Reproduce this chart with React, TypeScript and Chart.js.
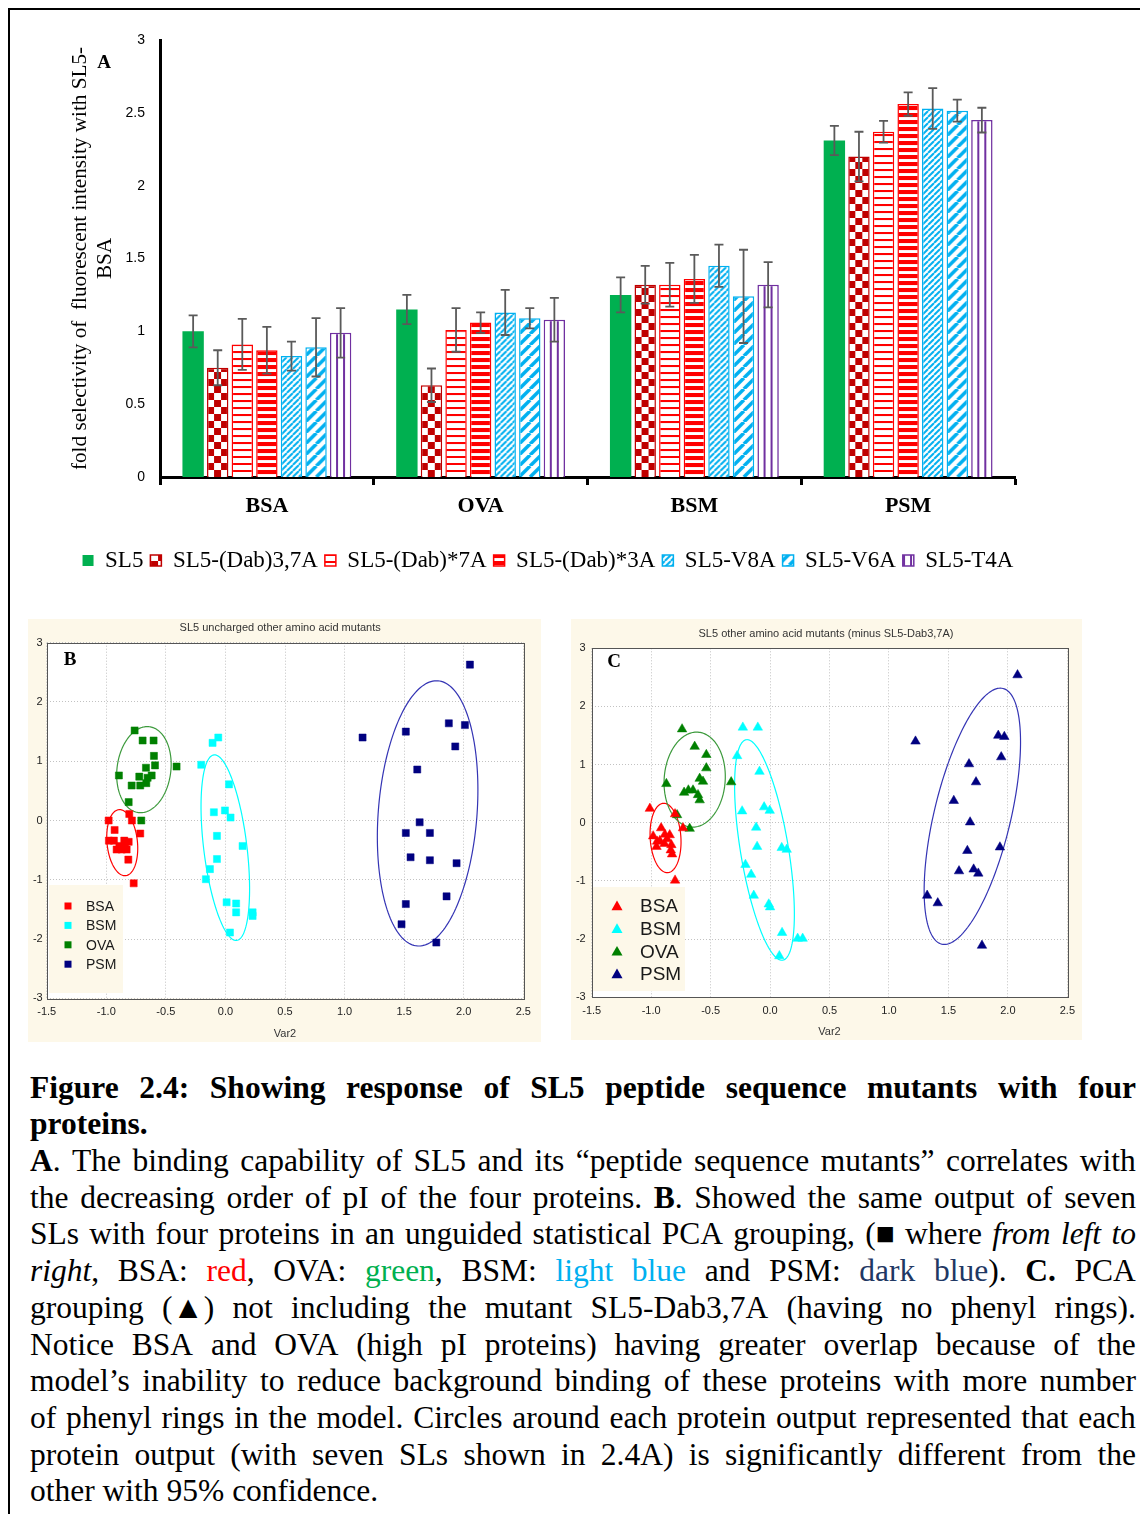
import React, { useEffect, useRef } from 'react';
import { Chart, registerables } from 'chart.js';

Chart.register(...registerables);
Chart.defaults.font.family = '"Liberation Sans", Arial, sans-serif';

// ---------------- Panel A data ----------------
const proteins = ['BSA', 'OVA', 'BSM', 'PSM'];
const seriesLabels = ['SL5', 'SL5-(Dab)3,7A', 'SL5-(Dab)*7A', 'SL5-(Dab)*3A', 'SL5-V8A', 'SL5-V6A', 'SL5-T4A'];
const valSL5 = [1.0, 1.15, 1.25, 2.31];
const errSL5 = [0.11, 0.1, 0.12, 0.1];
const valDab37 = [0.75, 0.63, 1.32, 2.2];
const errDab37 = [0.12, 0.115, 0.13, 0.17];
const valDab7 = [0.91, 1.01, 1.32, 2.37];
const errDab7 = [0.175, 0.15, 0.15, 0.075];
const valDab3 = [0.87, 1.06, 1.36, 2.56];
const errDab3 = [0.16, 0.07, 0.165, 0.08];
const valV8 = [0.83, 1.13, 1.45, 2.53];
const errV8 = [0.1, 0.155, 0.145, 0.14];
const valV6 = [0.89, 1.09, 1.24, 2.515];
const errV6 = [0.2, 0.07, 0.32, 0.075];
const valT4 = [0.99, 1.08, 1.32, 2.45];
const errT4 = [0.17, 0.15, 0.155, 0.085];
const yTicksA = [0, 0.5, 1, 1.5, 2, 2.5, 3];
const yTickLabelsA = ['0', '0.5', '1', '1.5', '2', '2.5', '3'];
const yTitleA = ['fold selectivity of  fluorescent intensity with SL5-', 'BSA'];

const seriesValues = [valSL5, valDab37, valDab7, valDab3, valV8, valV6, valT4];
const seriesErrors = [errSL5, errDab37, errDab7, errDab3, errV8, errV6, errT4];

// ---------------- Panel B data (squares) ----------------
const bBSA = [[-0.98, 0.0], [-0.807, 0.11], [-0.785, 0.0], [-0.93, -0.16], [-0.715, -0.22], [-0.978, -0.34], [-0.936, -0.34], [-0.913, -0.49], [-0.871, -0.49], [-0.849, -0.34], [-0.829, -0.49], [-0.812, -0.36], [-0.89, -0.43], [-0.843, -0.41], [-0.815, -0.66], [-0.77, -1.06]];
const bBSM = [[-0.06, 1.4], [-0.108, 1.31], [-0.203, 0.94], [0.03, 0.61], [-0.097, 0.14], [-0.004, 0.17], [0.043, 0.05], [-0.071, -0.26], [0.144, -0.43], [-0.071, -0.65], [-0.13, -0.82], [-0.164, -0.99], [0.01, -1.38], [0.09, -1.4], [0.09, -1.55], [0.228, -1.55], [0.228, -1.61], [0.038, -1.89]];
const bOVA = [[-0.762, 1.52], [-0.695, 1.35], [-0.603, 1.35], [-0.6, 1.09], [-0.591, 0.93], [-0.667, 0.89], [-0.894, 0.76], [-0.723, 0.74], [-0.619, 0.76], [-0.653, 0.72], [-0.664, 0.63], [-0.787, 0.59], [-0.715, 0.59], [-0.812, 0.31], [-0.41, 0.91], [-0.706, 0.0]];
const bPSM = [[2.052, 2.63], [1.151, 1.4], [1.514, 1.5], [1.875, 1.64], [2.01, 1.61], [1.929, 1.25], [1.61, 0.86], [1.63, -0.03], [1.514, -0.21], [1.716, -0.21], [1.554, -0.62], [1.716, -0.67], [1.94, -0.72], [1.856, -1.28], [1.514, -1.41], [1.478, -1.75], [1.77, -2.06]];
// ellipses: [cx, cy, major-dx, major-dy, minor-dx, minor-dy]
const bEllBSA = [-0.866, -0.374, -0.028, 0.557, 0.127, 0.025];
const bEllBSM = [-0.001, -0.458, -0.0955, 1.565, 0.18, 0.044];
const bEllOVA = [-0.684, 0.858, 0.046, 0.724, 0.224, -0.057];
const bEllPSM = [1.697, 0.12, 0.0865, 2.237, 0.413, -0.064];

// ---------------- Panel C data (triangles) ----------------
const cBSA = [[-1.011, 0.244], [-0.799, 0.15], [-0.732, -0.09], [-0.916, -0.09], [-0.983, -0.23], [-0.95, -0.32], [-0.885, -0.2], [-0.844, -0.21], [-0.927, -0.31], [-0.888, -0.36], [-0.955, -0.41], [-0.866, -0.28], [-0.83, -0.38], [-0.835, -0.47], [-0.824, -0.54], [-0.799, -0.99]];
const cBSM = [[-0.229, 1.64], [-0.103, 1.64], [-0.277, 1.15], [-0.089, 0.88], [-0.235, 0.2], [-0.05, 0.27], [-0.003, 0.21], [-0.117, -0.08], [-0.109, -0.41], [0.098, -0.43], [0.14, -0.46], [-0.207, -0.72], [-0.159, -0.89], [-0.137, -1.25], [-0.011, -1.4], [0.0, -1.45], [0.101, -1.89], [0.232, -1.99], [0.274, -1.99], [0.078, -2.29]];
const cOVA = [[-0.74, 1.61], [-0.634, 1.31], [-0.536, 1.17], [-0.536, 0.94], [-0.872, 0.67], [-0.592, 0.76], [-0.564, 0.71], [-0.327, 0.7], [-0.723, 0.52], [-0.687, 0.56], [-0.648, 0.56], [-0.606, 0.48], [-0.592, 0.39], [-0.782, 0.135], [-0.676, -0.1]];
const cPSM = [[2.081, 2.54], [1.223, 1.4], [1.919, 1.5], [1.97, 1.48], [1.944, 1.13], [1.673, 1.01], [1.732, 0.7], [1.545, 0.38], [1.682, 0.01], [1.933, -0.42], [1.659, -0.48], [1.712, -0.8], [1.751, -0.87], [1.589, -0.83], [1.321, -1.25], [1.41, -1.38], [1.782, -2.11]];
const cEllBSA = [-0.879, -0.261, -0.018, 0.596, 0.129, 0.015];
const cEllBSM = [-0.047, -0.467, -0.1535, 1.895, 0.199, 0.067];
const cEllOVA = [-0.634, 0.742, 0.028, 0.816, 0.256, -0.036];
const cEllPSM = [1.701, 0.112, 0.2575, 2.1975, 0.313, -0.154];

const groupLabels = ['BSA', 'BSM', 'OVA', 'PSM'];
const titleB = 'SL5 uncharged other amino acid mutants';
const titleC = 'SL5 other amino acid mutants (minus SL5-Dab3,7A)';
const xTitleBC = 'Var2';

// ---------------- Caption ----------------
const captionLines = [
  '**Figure 2.4: Showing response of SL5 peptide sequence mutants with four**',
  '**proteins.**',
  '**A**. The binding capability of SL5 and its \u201cpeptide sequence mutants\u201d correlates with',
  'the decreasing order of pI of the four proteins. **B**. Showed the same output of seven',
  'SLs with four proteins in an unguided statistical PCA grouping, (**\u25A0** where __from left to__',
  '__right__, BSA: [#FF0000]red[/], OVA: [#00B050]green[/], BSM: [#00B0F0]light blue[/] and PSM: [#1F3864]dark blue[/]). **C.** PCA',
  'grouping (**\u25B2**) not including the mutant SL5-Dab3,7A (having no phenyl rings).',
  'Notice BSA and OVA (high pI proteins) having greater overlap because of the',
  'model\u2019s inability to reduce background binding of these proteins with more number',
  'of phenyl rings in the model. Circles around each protein output represented that each',
  'protein output (with seven SLs shown in 2.4A) is significantly different from the',
  'other with 95% confidence.',
];
const captionJustify = [true, false, true, true, true, true, true, true, true, true, true, false];

// ---------------- styles ----------------
const CAT_PCT = 0.805;
const BAR_PCT = 0.87;
type PatKind = 'solid' | 'checker' | 'hlines' | 'hbars' | 'diagFine' | 'diagWide' | 'vlines';
const seriesKinds: PatKind[] = ['solid', 'checker', 'hlines', 'hbars', 'diagFine', 'diagWide', 'vlines'];
const seriesColors = ['#00B050', '#C00000', '#FF0000', '#FF0000', '#00B0F0', '#00B0F0', '#7030A0'];
const groupColors = ['#FF0000', '#00FFFF', '#008000', '#000080'];
const ellColors = ['#FF0000', '#00FFFF', '#3C9A3C', '#3434B4'];

function makeTile(kind: PatKind, color: string): HTMLCanvasElement {
  const c = document.createElement('canvas');
  const g = c.getContext('2d')!;
  const set = (w: number, h: number) => {
    c.width = w; c.height = h;
    g.fillStyle = '#ffffff'; g.fillRect(0, 0, w, h);
    g.fillStyle = color; g.strokeStyle = color;
  };
  const diag = (n: number, lw: number) => {
    set(n, n);
    g.lineWidth = lw;
    g.beginPath();
    for (const o of [-n, 0, n]) { g.moveTo(o, n); g.lineTo(o + n, 0); }
    g.stroke();
  };
  switch (kind) {
    case 'checker': set(14, 14); g.fillRect(0, 0, 7, 7); g.fillRect(7, 7, 7, 7); break;
    case 'hlines': set(4, 7); g.fillRect(0, 0, 4, 2); break;
    case 'hbars': set(4, 7); g.fillRect(0, 0, 4, 4); break;
    case 'diagFine': diag(6, 2); break;
    case 'diagWide': diag(11, 3.5); break;
    case 'vlines': set(7, 4); g.fillRect(0, 0, 2, 4); break;
    default: set(4, 4); g.fillRect(0, 0, 4, 4);
  }
  return c;
}

function patternFill(kind: PatKind, color: string, dsIndex: number) {
  const tile = makeTile(kind, color);
  return (ctx: any) => {
    const chart = ctx.chart;
    const pat = chart.ctx.createPattern(tile, 'repeat');
    if (ctx.type !== 'data') return pat;
    const xs = chart.scales.x;
    const ys = chart.scales.y;
    if (!xs || !ys || !xs.width) return pat;
    const catW = xs.width / proteins.length;
    const size = catW * CAT_PCT;
    const slot = size / seriesLabels.length;
    const barW = slot * BAR_PCT;
    const left = xs.getPixelForValue(ctx.dataIndex) - size / 2 + slot * dsIndex + (slot - barW) / 2;
    const tx = kind === 'vlines' ? left + barW / 3 - 1 : left;
    const ty = ys.getPixelForValue(0);
    if (isFinite(tx) && isFinite(ty)) pat.setTransform(new DOMMatrix([1, 0, 0, 1, tx, ty]));
    return pat;
  };
}

const errorBarPlugin = {
  id: 'errorBars',
  afterDatasetsDraw(chart: any) {
    const ctx = chart.ctx;
    const ys = chart.scales.y;
    ctx.save();
    ctx.strokeStyle = '#5A5A5A';
    ctx.lineWidth = 1.8;
    chart.data.datasets.forEach((ds: any, i: number) => {
      const meta = chart.getDatasetMeta(i);
      meta.data.forEach((el: any, j: number) => {
        const v = ds.data[j];
        const e = ds.errors[j];
        const x = el.x;
        const y1 = ys.getPixelForValue(v + e);
        const y2 = ys.getPixelForValue(v - e);
        ctx.beginPath();
        ctx.moveTo(x, y1); ctx.lineTo(x, y2);
        ctx.moveTo(x - 4.5, y1); ctx.lineTo(x + 4.5, y1);
        ctx.moveTo(x - 4.5, y2); ctx.lineTo(x + 4.5, y2);
        ctx.stroke();
      });
    });
    ctx.restore();
  },
};

const letterAPlugin = {
  id: 'letterA',
  afterDraw(chart: any) {
    const ctx = chart.ctx;
    const a = chart.chartArea;
    ctx.save();
    ctx.font = 'bold 19px "Liberation Serif"';
    ctx.fillStyle = '#000';
    ctx.textAlign = 'center';
    ctx.textBaseline = 'middle';
    ctx.fillText('A', a.left - 56, a.top + 23);
    ctx.restore();
  },
};

function buildBarConfig() {
  const datasets = seriesLabels.map((label, i) => ({
    label,
    data: seriesValues[i],
    errors: seriesErrors[i],
    yAxisID: 'y',
    backgroundColor: seriesKinds[i] === 'solid' ? seriesColors[i] : patternFill(seriesKinds[i], seriesColors[i], i),
    borderColor: seriesColors[i],
    borderWidth: seriesKinds[i] === 'solid' ? 0 : 1.5,
    categoryPercentage: CAT_PCT,
    barPercentage: BAR_PCT,
  }));
  return {
    type: 'bar',
    data: { labels: proteins, datasets },
    options: {
      animation: false,
      responsive: false,
      devicePixelRatio: 1,
      events: [],
      layout: { padding: { top: 30, right: 0, bottom: 0, left: 0 } },
      plugins: {
        tooltip: { enabled: false },
        legend: {
          position: 'bottom',
          labels: {
            font: { family: '"Liberation Serif"', size: 23 },
            color: '#000',
            boxWidth: 11,
            boxHeight: 11,
            padding: 7,
          },
        },
      },
      scales: {
        x: {
          grid: { display: true, drawOnChartArea: false, drawTicks: true, tickLength: 8, tickWidth: 3, tickColor: '#000', offset: true },
          border: { display: true, color: '#000', width: 3 },
          ticks: { font: { family: '"Liberation Serif"', size: 22, weight: 'bold' }, color: '#000', padding: 8 },
          afterFit: (s: any) => { s.height = 65; },
        },
        y: {
          min: 0,
          max: 3,
          afterBuildTicks: (s: any) => { s.ticks = yTicksA.map((v) => ({ value: v })); },
          ticks: {
            font: { family: '"Liberation Sans"', size: 14 },
            color: '#000',
            padding: 15,
            callback: (v: any) => yTickLabelsA[yTicksA.indexOf(Number(v))] ?? String(v),
          },
          grid: { display: false, drawTicks: false },
          border: { display: true, color: '#000', width: 3 },
          title: {
            display: true,
            text: yTitleA,
            font: { family: '"Liberation Serif"', size: 21.2, lineHeight: 1.18 },
            color: '#000',
            padding: { top: 58, bottom: 0 },
          },
          afterFit: (s: any) => { s.width = 150; },
        },
        yPad: {
          position: 'right',
          min: 0,
          max: 1,
          ticks: { display: false },
          grid: { display: false },
          border: { display: false },
          afterFit: (s: any) => { s.width = 71; },
        },
      },
    },
    plugins: [errorBarPlugin, letterAPlugin],
  };
}

interface Group { label: string; color: string; ellColor: string; pts: number[][]; ell: number[] }
interface PanelSpec {
  title: string;
  letter: string;
  letterPos: [number, number];
  pointStyle: 'rect' | 'triangle';
  radius: number;
  groups: Group[];
  leftW: number;
  rightW: number;
  padRight: number;
  titlePad: [number, number];
  bottomH: number;
  yPad: number;
  legend: { x: number; y: number; w: number; h: number; mx: number; tx: number; row0: number; gap: number; font: number; ms: number };
}

function scatterPlugins(spec: PanelSpec) {
  return [
    {
      id: 'plotBg',
      beforeDraw(chart: any) {
        const { ctx, chartArea: a } = chart;
        ctx.save();
        ctx.fillStyle = '#ffffff';
        ctx.fillRect(a.left, a.top, a.width, a.height);
        ctx.restore();
      },
    },
    {
      id: 'frameAndEllipses',
      beforeDatasetsDraw(chart: any) {
        const { ctx, chartArea: a } = chart;
        const xs = chart.scales.x;
        const ys = chart.scales.y;
        ctx.save();
        ctx.strokeStyle = '#555555';
        ctx.lineWidth = 1;
        ctx.strokeRect(Math.round(a.left) + 0.5, Math.round(a.top) + 0.5, Math.round(a.width), Math.round(a.height));
        spec.groups.forEach((g) => {
          const [cx, cy, ax, ay, bx, by] = g.ell;
          ctx.beginPath();
          for (let k = 0; k <= 180; k++) {
            const t = (k / 180) * Math.PI * 2;
            const px = xs.getPixelForValue(cx + Math.cos(t) * ax + Math.sin(t) * bx);
            const py = ys.getPixelForValue(cy + Math.cos(t) * ay + Math.sin(t) * by);
            if (k === 0) ctx.moveTo(px, py); else ctx.lineTo(px, py);
          }
          ctx.closePath();
          ctx.strokeStyle = g.ellColor;
          ctx.lineWidth = 1.2;
          ctx.stroke();
        });
        ctx.restore();
      },
    },
    {
      id: 'insideLegend',
      afterDatasetsDraw(chart: any) {
        const { ctx, chartArea: a } = chart;
        const L = spec.legend;
        ctx.save();
        ctx.fillStyle = '#FDF8E9';
        ctx.fillRect(a.left + L.x, a.top + L.y, L.w, L.h);
        ctx.font = `${L.font}px "Liberation Sans"`;
        ctx.textBaseline = 'middle';
        ctx.textAlign = 'left';
        spec.groups.forEach((g, i) => {
          const y = a.top + L.row0 + i * L.gap;
          const x = a.left + L.mx;
          const s = L.ms;
          ctx.fillStyle = g.color;
          if (spec.pointStyle === 'rect') {
            ctx.fillRect(x - s / 2, y - s / 2, s, s);
          } else {
            ctx.beginPath();
            ctx.moveTo(x, y - s * 0.55);
            ctx.lineTo(x + s * 0.55, y + s * 0.42);
            ctx.lineTo(x - s * 0.55, y + s * 0.42);
            ctx.closePath();
            ctx.fill();
          }
          ctx.fillStyle = '#1a1a1a';
          ctx.fillText(g.label, a.left + L.tx, y + 1);
        });
        ctx.restore();
      },
    },
    {
      id: 'panelLetter',
      afterDraw(chart: any) {
        const { ctx, chartArea: a } = chart;
        ctx.save();
        ctx.font = 'bold 19px "Liberation Serif"';
        ctx.fillStyle = '#000';
        ctx.textAlign = 'center';
        ctx.textBaseline = 'middle';
        ctx.fillText(spec.letter, a.left + spec.letterPos[0], a.top + spec.letterPos[1]);
        ctx.restore();
      },
    },
  ];
}

function buildScatterConfig(spec: PanelSpec) {
  const datasets = spec.groups.map((g) => ({
    label: g.label,
    data: g.pts.map(([x, y]) => ({ x, y })),
    backgroundColor: g.color,
    borderColor: g.color,
    borderWidth: 0.5,
    pointStyle: spec.pointStyle,
    pointRadius: spec.radius,
    pointHoverRadius: spec.radius,
  }));
  const tickFont = { family: '"Liberation Sans"', size: 11 };
  return {
    type: 'scatter',
    data: { datasets },
    options: {
      animation: false,
      responsive: false,
      devicePixelRatio: 1,
      events: [],
      layout: { padding: { top: 0, right: spec.padRight, bottom: 0, left: 0 } },
      plugins: {
        legend: { display: false },
        tooltip: { enabled: false },
        title: {
          display: true,
          text: spec.title,
          font: { family: '"Liberation Sans"', size: 11, weight: 'normal', lineHeight: 1.2 },
          color: '#333333',
          padding: { top: spec.titlePad[0], bottom: spec.titlePad[1] },
        },
      },
      scales: {
        x: {
          type: 'linear',
          min: -1.5,
          max: 2.5,
          ticks: { stepSize: 0.5, callback: (v: any) => Number(v).toFixed(1), font: tickFont, color: '#222', padding: 7 },
          grid: { color: '#c2c2c2', drawTicks: false, lineWidth: 1 },
          border: { display: false, dash: [1, 2] },
          title: { display: true, text: xTitleBC, font: tickFont, color: '#333', padding: { top: 0, bottom: 1.5 } },
          afterFit: (s: any) => { s.height = spec.bottomH; },
        },
        y: {
          type: 'linear',
          min: -3,
          max: 3,
          ticks: { stepSize: 1, font: tickFont, color: '#222', padding: spec.yPad },
          grid: { color: '#c2c2c2', drawTicks: false, lineWidth: 1 },
          border: { display: false, dash: [1, 2] },
          afterFit: (s: any) => { s.width = spec.leftW; },
        },
        yPad: {
          type: 'linear',
          position: 'right',
          min: 0,
          max: 1,
          ticks: { display: false },
          grid: { display: false },
          border: { display: false },
          afterFit: (s: any) => { s.width = spec.rightW; },
        },
      },
    },
    plugins: scatterPlugins(spec),
  };
}

const specB: PanelSpec = {
  title: titleB,
  letter: 'B',
  letterPos: [23.3, 17.3],
  pointStyle: 'rect',
  radius: 5,
  groups: [
    { label: groupLabels[0], color: groupColors[0], ellColor: ellColors[0], pts: bBSA, ell: bEllBSA },
    { label: groupLabels[1], color: groupColors[1], ellColor: ellColors[1], pts: bBSM, ell: bEllBSM },
    { label: groupLabels[2], color: groupColors[2], ellColor: ellColors[2], pts: bOVA, ell: bEllOVA },
    { label: groupLabels[3], color: groupColors[3], ellColor: ellColors[3], pts: bPSM, ell: bEllPSM },
  ],
  leftW: 18.7,
  rightW: 9,
  padRight: 8.7,
  titlePad: [2.5, 8],
  bottomH: 43.7,
  yPad: 4,
  legend: { x: 2.3, y: 242.3, w: 74, h: 108, mx: 21.3, tx: 39.3, row0: 263.3, gap: 19.4, font: 14, ms: 7 },
};

const specC: PanelSpec = {
  title: titleC,
  letter: 'C',
  letterPos: [22.3, 13.7],
  pointStyle: 'triangle',
  radius: 5.5,
  groups: [
    { label: groupLabels[0], color: groupColors[0], ellColor: ellColors[0], pts: cBSA, ell: cEllBSA },
    { label: groupLabels[1], color: groupColors[1], ellColor: ellColors[1], pts: cBSM, ell: cEllBSM },
    { label: groupLabels[2], color: groupColors[2], ellColor: ellColors[2], pts: cOVA, ell: cEllOVA },
    { label: groupLabels[3], color: groupColors[3], ellColor: ellColors[3], pts: cPSM, ell: cEllPSM },
  ],
  leftW: 20.7,
  rightW: 12,
  padRight: 1,
  titlePad: [8.5, 7.6],
  bottomH: 42.7,
  yPad: 6,
  legend: { x: 1.3, y: 238.7, w: 92, h: 104, mx: 25.3, tx: 48.3, row0: 257.7, gap: 22.7, font: 19, ms: 10 },
};

function BarPanel() {
  const ref = useRef<HTMLCanvasElement>(null);
  useEffect(() => {
    const chart = new Chart(ref.current as HTMLCanvasElement, buildBarConfig() as any);
    return () => chart.destroy();
  }, []);
  return (
    <canvas ref={ref} width={1076} height={572}
      style={{ position: 'absolute', left: 2, top: 2, width: 1076, height: 572 }} />
  );
}

function ScatterPanel(props: { spec: PanelSpec; left: number; top: number; width: number; height: number }) {
  const ref = useRef<HTMLCanvasElement>(null);
  const { spec, left, top, width, height } = props;
  useEffect(() => {
    const chart = new Chart(ref.current as HTMLCanvasElement, buildScatterConfig(spec) as any);
    return () => chart.destroy();
  }, [spec]);
  return (
    <canvas ref={ref} width={width} height={height}
      style={{ position: 'absolute', left, top, width, height, background: '#FDF8E9' }} />
  );
}

interface Seg { t: string; b: boolean; i: boolean; c?: string }
function parseLine(line: string): Seg[][] {
  const words: Seg[][] = [];
  let cur: Seg[] = [];
  let b = false;
  let it = false;
  let c: string | undefined;
  let buf = '';
  const flush = () => { if (buf) { cur.push({ t: buf, b, i: it, c }); buf = ''; } };
  let k = 0;
  while (k < line.length) {
    if (line.startsWith('**', k)) { flush(); b = !b; k += 2; continue; }
    if (line.startsWith('__', k)) { flush(); it = !it; k += 2; continue; }
    if (line.startsWith('[/]', k)) { flush(); c = undefined; k += 3; continue; }
    if (line[k] === '[' && line[k + 1] === '#') { const e = line.indexOf(']', k); flush(); c = line.slice(k + 1, e); k = e + 1; continue; }
    if (line[k] === ' ') { flush(); if (cur.length) words.push(cur); cur = []; k++; continue; }
    buf += line[k];
    k++;
  }
  flush();
  if (cur.length) words.push(cur);
  return words;
}

function Word({ segs }: { segs: Seg[] }) {
  return (
    <span style={{ whiteSpace: 'pre' }}>
      {segs.map((s, i) => (
        <span key={i} style={{ fontWeight: s.b ? 'bold' : 'normal', fontStyle: s.i ? 'italic' : 'normal', color: s.c || '#000' }}>{s.t}</span>
      ))}
    </span>
  );
}

const LINE_H = 36.73;
function Caption() {
  return (
    <div style={{ position: 'absolute', left: 22, top: 1061.5, width: 1106, fontFamily: '"Liberation Serif", "Times New Roman", serif', fontSize: 31.5, color: '#000' }}>
      {captionLines.map((ln, i) => {
        const words = parseLine(ln);
        if (captionJustify[i]) {
          return (
            <div key={i} style={{ display: 'flex', justifyContent: 'space-between', height: LINE_H, lineHeight: `${LINE_H}px`, whiteSpace: 'nowrap' }}>
              {words.map((w, j) => <Word key={j} segs={w} />)}
            </div>
          );
        }
        return (
          <div key={i} style={{ height: LINE_H, lineHeight: `${LINE_H}px`, whiteSpace: 'nowrap' }}>
            {words.map((w, j) => (
              <React.Fragment key={j}>
                <Word segs={w} />{j < words.length - 1 ? ' ' : ''}
              </React.Fragment>
            ))}
          </div>
        );
      })}
    </div>
  );
}

export default function App() {
  return (
    <div style={{ position: 'relative', width: 1140, height: 1506, overflow: 'hidden', background: '#fff' }}>
      <div style={{ position: 'absolute', left: 0, top: 0, width: 1200, height: 1600, borderTop: '2px solid #000', borderLeft: '2px solid #000', boxSizing: 'border-box' }} />
      <BarPanel />
      <ScatterPanel spec={specB} left={20} top={611} width={513} height={423} />
      <ScatterPanel spec={specC} left={563} top={611} width={511} height={421} />
      <Caption />
    </div>
  );
}
